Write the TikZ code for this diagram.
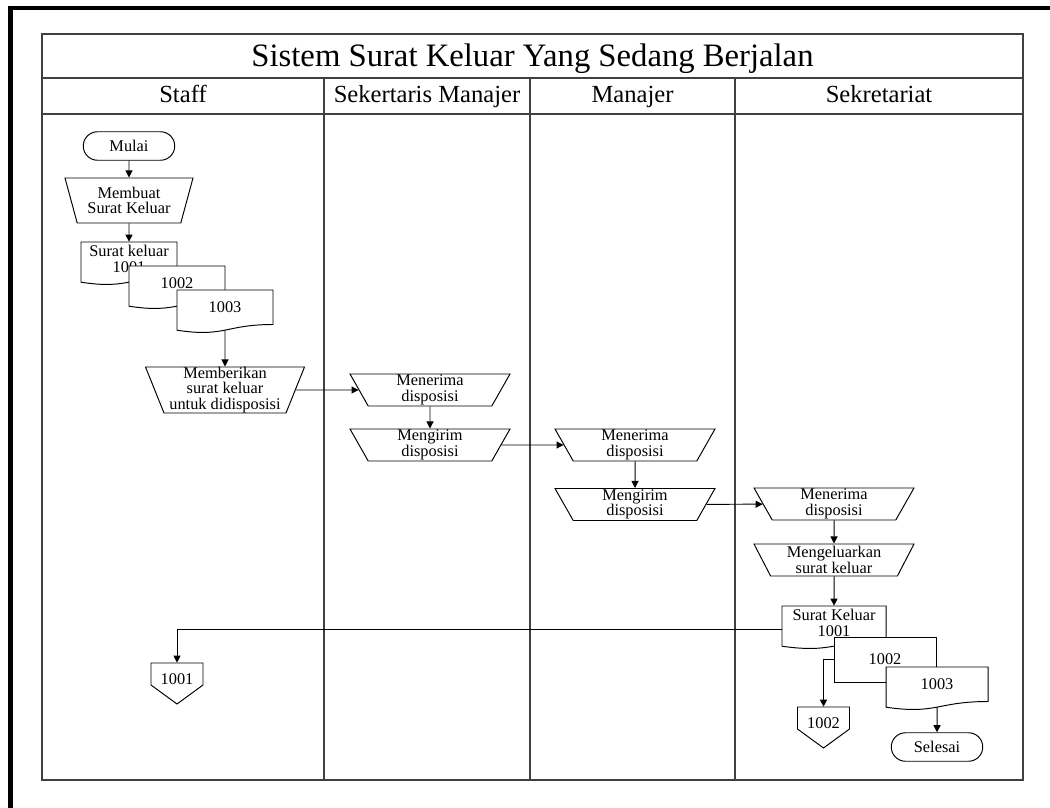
\documentclass[tikz,border=0pt]{standalone}
\usepackage{fontspec}
\setmainfont{Liberation Serif}
\usetikzlibrary{shapes.geometric, shapes.misc, arrows.meta}

\newcommand{\isi}{\fontsize{9.3}{8.8}\selectfont}

\tikzset{
	garis/.style={line width=0.55pt},
	panah/.style={garis, -{Triangle[length=4pt,width=4pt]}},
	lajur/.style={line width=0.6pt, color=black!75},
	proses/.style={trapezium, draw, garis, fill=white, trapezium left angle=120, trapezium right angle=120, trapezium stretches body, minimum width=3.2cm, minimum height=0.64cm, inner sep=0.5pt, align=center, font=\isi},
	terminal/.style={rounded rectangle, draw, garis, fill=white, minimum width=1.9cm, minimum height=0.57cm, inner sep=1pt, font=\isi},
	dok/.style={minimum height=0.68cm, inner sep=0pt, align=center, font=\isi},
	kotak/.style={rectangle, draw, garis, fill=white, minimum width=2.04cm, minimum height=0.9cm, inner sep=0pt, font=\isi},
	kepala/.style={anchor=base, font=\fontsize{14}{16}\selectfont},
}

% dokumen: nama, kiri, atas, lebar, teks
\newcommand{\dokumen}[5]{%
	\filldraw[garis, fill=white] (#2,#3) -- (#2+#4,#3) -- (#2+#4,#3+34.5)
		.. controls (#2+#4/2,#3+34.5) and (#2+#4/2,#3+47.6) .. (#2,#3+40.2) -- cycle;
	\node[dok, minimum width=#4*0.02cm] (#1) at (#2+#4/2,#3+17) {#5};
	\coordinate (#1-kiri) at (#2,#3+23);
	\coordinate (#1-bawah) at (#2+#4/2,#3+40.1);
}

% off-page: nama, tengah, atas, teks
\newcommand{\offpage}[4]{%
	\filldraw[garis, fill=white] (#2-26,#3) -- (#2+26,#3) -- (#2+26,#3+22) -- (#2,#3+41) -- (#2-26,#3+22) -- cycle;
	\node[dok, minimum width=1.04cm, minimum height=0.66cm] (#1) at (#2,#3+16.5) {#4};
}

\begin{document}
\begin{tikzpicture}[x=0.02cm, y=-0.02cm]

	\useasboundingbox (0,0) rectangle (1050,807);

	% bingkai tebal

	\draw[line width=2.7pt] (10.8,830) -- (10.8,8) -- (1070,8);

	% lajur

	\draw[lajur] (42,34) rectangle (1023,780);
	\draw[lajur] (42,78) -- (1023,78);
	\draw[lajur] (42,114) -- (1023,114);
	\foreach \x in {324,530,735}
		\draw[lajur] (\x,78) -- (\x,780);

	\node[anchor=base, font=\fontsize{18.6}{22}\selectfont] (judul) at (532.5,66.5) {Sistem Surat Keluar Yang Sedang Berjalan};
	\node[kepala] (staff) at (183,103) {Staff};
	\node[kepala] (sekman) at (427,103) {Sekertaris Manajer};
	\node[kepala] (manajer) at (632.5,103) {Manajer};
	\node[kepala] (sekret) at (879,103) {Sekretariat};

	% staff

	\node[terminal] (mulai) at (129,146) {Mulai};
	\node[proses, trapezium left angle=113, trapezium right angle=113, minimum width=2.56cm, minimum height=0.9cm] (membuat) at (129,200.5) {Membuat\\Surat Keluar};
	\dokumen{doc1}{81}{242}{96}{Surat keluar\\1001}
	\dokumen{doc2}{129}{266}{96}{1002}
	\dokumen{doc3}{177}{290}{96}{1003}
	\node[proses, trapezium left angle=112, trapezium right angle=112, minimum width=3.18cm, minimum height=0.92cm, inner ysep=0pt] (memberikan) at (225,390) {Memberikan\\surat keluar\\untuk didisposisi};
	\offpage{off1}{177}{663}{1001}

	% sekertaris manajer

	\node[proses] (menerima1) at (430,390) {Menerima\\disposisi};
	\node[proses] (mengirim1) at (430,445) {Mengirim\\disposisi};

	% manajer

	\node[proses] (menerima2) at (635,445) {Menerima\\disposisi};
	\node[proses] (mengirim2) at (635,504.5) {Mengirim\\disposisi};

	% sekretariat

	\node[proses] (menerima3) at (834,504) {Menerima\\disposisi};
	\node[proses] (mengeluarkan) at (834,560) {Mengeluarkan\\surat keluar};
	\dokumen{docA}{782}{606}{104}{Surat Keluar\\1001}
	\node[kotak] (docB) at (885,659.5) {1002};
	\dokumen{docC}{886}{667}{102}{1003}
	\offpage{off2}{823.5}{707}{1002}
	\node[terminal] (selesai) at (937,747) {Selesai};

	% alur

	\draw[panah] (mulai) -- (membuat);
	\draw[panah] (membuat) -- (doc1.north);
	\draw[panah] (doc3-bawah) -- (memberikan);
	\draw[panah] (memberikan) -- (menerima1);
	\draw[panah] (menerima1) -- (mengirim1);
	\draw[panah] (mengirim1) -- (menerima2);
	\draw[panah] (menerima2) -- (mengirim2);
	\draw[panah] (mengirim2) -- (menerima3);
	\draw[panah] (menerima3) -- (mengeluarkan);
	\draw[panah] (mengeluarkan) -- (docA.north);
	\draw[panah] (docA-kiri) -| (off1.north);
	\draw[panah] (docB.west) -| (off2.north);
	\draw[panah] (docC-bawah) -- (selesai);

\end{tikzpicture}
\end{document}
